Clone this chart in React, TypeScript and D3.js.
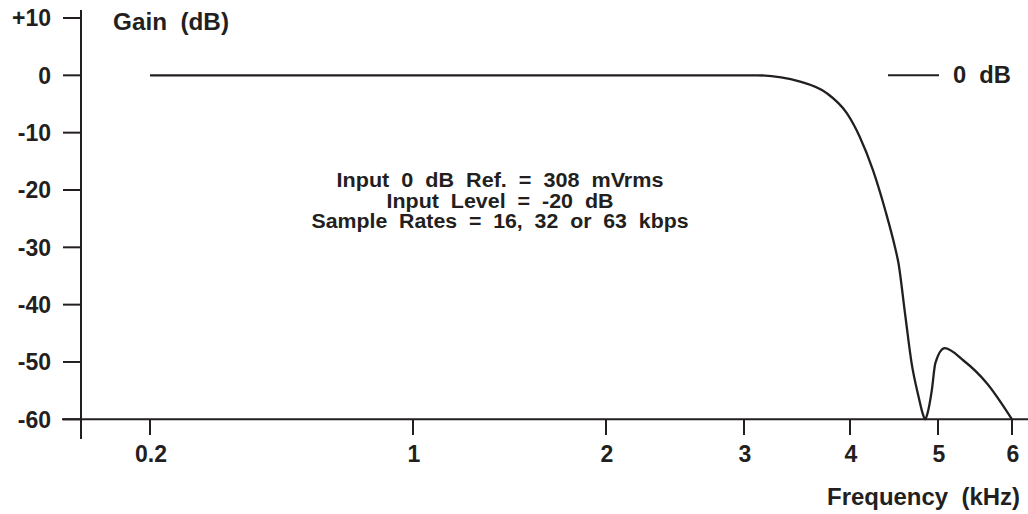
import React from "react";
import * as d3 from "d3";

const freqKHz = [0.2, 1, 2, 3, 3.12, 3.53, 3.78, 3.97, 4.11, 4.26, 4.4, 4.51, 4.55, 4.625, 4.7, 4.78, 4.83, 4.855, 4.88, 4.93, 4.97, 5.09, 5.34, 5.66, 6];
const gainDb = [0, 0, 0, 0, 0, -1.1, -3.1, -6.6, -10.7, -16.5, -23.5, -29.9, -32.7, -41.5, -50.2, -56.1, -59.2, -60, -59.0, -54.9, -50.2, -47.6, -49.7, -53.7, -60];

const xTickValues = [0.2, 1, 2, 3, 4, 5, 6];
const xTickLabels = ["0.2", "1", "2", "3", "4", "5", "6"];
const yTickValues = [10, 0, -10, -20, -30, -40, -50, -60];
const yTickLabels = ["+10", "0", "-10", "-20", "-30", "-40", "-50", "-60"];

const annotationLines = [
  "Input  0  dB  Ref.  =  308  mVrms",
  "Input  Level  =  -20  dB",
  "Sample  Rates  =  16,  32  or  63  kbps",
];

const INK = "#231f20";
const FONT = "'Liberation Sans', Arial, Helvetica, sans-serif";

export default function App() {
  const W = 1028;
  const H = 514;
  // custom (non-uniform) frequency axis, as drawn in the original
  const x = d3.scaleLinear().domain(xTickValues).range([150, 413, 606, 744, 850, 938, 1012]);
  const y = d3.scaleLinear().domain([-60, 10]).range([419.3, 18]);

  const pts = freqKHz.map((f, i) => [f, gainDb[i]] as [number, number]);
  const line = d3
    .line<[number, number]>()
    .x((d) => x(d[0]))
    .y((d) => y(d[1]))
    .curve(d3.curveMonotoneX);

  const axisX = 81;
  const axisY = y(-60);

  return (
    <svg width={W} height={H} viewBox={`0 0 ${W} ${H}`} style={{ position: "absolute", left: 0, top: 0, background: "#fff" }}>
      <g fontFamily={FONT} fontWeight="bold" fill={INK}>
        {/* y axis */}
        <line x1={axisX} x2={axisX} y1={10} y2={439} stroke={INK} strokeWidth={2} />
        {yTickValues.map((v, i) => (
          <g key={"yt" + v}>
            <line x1={63} x2={axisX} y1={y(v)} y2={y(v)} stroke={INK} strokeWidth={2} />
            <text x={51} y={y(v)} dy="0.36em" textAnchor="end" fontSize={23}>
              {yTickLabels[i]}
            </text>
          </g>
        ))}
        {/* x axis */}
        <line x1={62} x2={1028} y1={axisY} y2={axisY} stroke={INK} strokeWidth={2} />
        {xTickValues.map((v, i) => (
          <g key={"xt" + v}>
            <line x1={x(v)} x2={x(v)} y1={axisY} y2={435} stroke={INK} strokeWidth={2} />
            <text x={x(v) + 1} y={461.5} textAnchor="middle" fontSize={23}>
              {xTickLabels[i]}
            </text>
          </g>
        ))}
        {/* titles */}
        <text x={113} y={30} fontSize={23.5} textLength={116} lengthAdjust="spacingAndGlyphs" style={{ whiteSpace: "pre" }}>
          {"Gain  (dB)"}
        </text>
        <text x={1020} y={504.5} textAnchor="end" fontSize={24} textLength={193} lengthAdjust="spacingAndGlyphs" style={{ whiteSpace: "pre" }}>
          {"Frequency  (kHz)"}
        </text>
        {/* legend */}
        <line x1={888} x2={939} y1={y(0)} y2={y(0)} stroke={INK} strokeWidth={2} />
        <text x={953} y={83} fontSize={24} textLength={58} lengthAdjust="spacingAndGlyphs" style={{ whiteSpace: "pre" }}>
          {"0  dB"}
        </text>
        {/* annotation */}
        {annotationLines.map((t, i) => (
          <text
            key={"an" + i}
            x={500}
            y={186.7 + i * 20.8}
            textAnchor="middle"
            fontSize={19.5}
            textLength={[327, 227, 377][i]}
            lengthAdjust="spacingAndGlyphs"
            style={{ whiteSpace: "pre" }}
          >
            {t}
          </text>
        ))}
        {/* curve */}
        <path d={line(pts) || ""} fill="none" stroke={INK} strokeWidth={2.3} strokeLinejoin="round" />
      </g>
    </svg>
  );
}
